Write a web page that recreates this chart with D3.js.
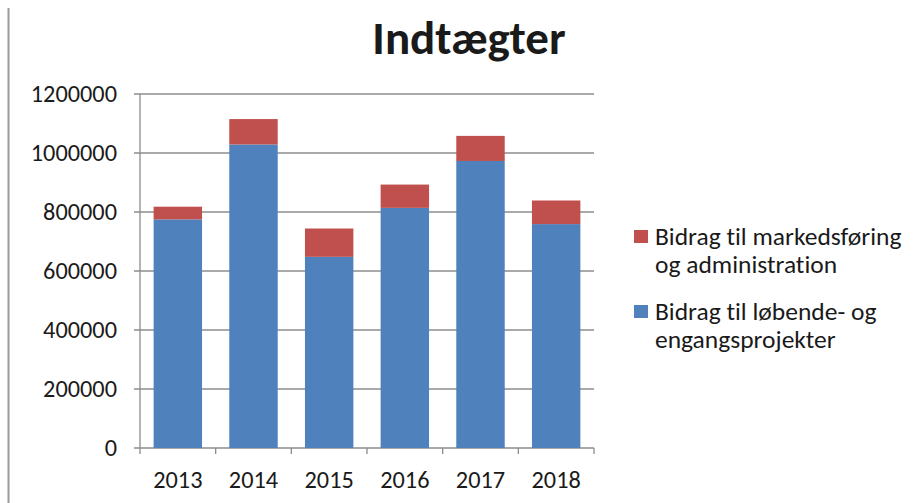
<!DOCTYPE html>
<head>
    <script src="https://d3js.org/d3.v7.min.js"></script>
    <style>
        body { margin: 0; background: white; }
        svg text { font-family: Carlito, Calibri, "Open Sans", sans-serif; fill: #1a1a1a; font-variant-ligatures: none; }
    </style>
</head>
<body>
    <svg width="923" height="503"></svg>
</body>
<script>
    var years = ["2013", "2014", "2015", "2016", "2017", "2018"]
    var lobende = [775000, 1029000, 648000, 814000, 973000, 759000]
    var markedsforing = [43000, 86000, 96000, 79000, 85000, 80000]
    var yTicks = [0, 200000, 400000, 600000, 800000, 1000000, 1200000]
    var colors = ["#4f81bd", "#c0504d"]

    var svg = d3.select("svg")
    var mLeft = 140, mRight = 594, mTop = 94, mBottom = 448

    // page edge line at far left
    svg.append("line")
        .attr("x1", 8.5).attr("x2", 8.5).attr("y1", 8).attr("y2", 503)
        .attr("stroke", "#9a9a9a").attr("stroke-width", 2)

    var x = d3.scaleBand().domain(years).range([mLeft, mRight]).paddingInner(0.36).paddingOuter(0.18)
    var y = d3.scaleLinear().domain([0, 1200000]).range([mBottom, mTop])

    // gridlines
    svg.selectAll(".grid").data(yTicks).enter().append("line")
        .attr("x1", mLeft - 6).attr("x2", mRight)
        .attr("y1", d => y(d)).attr("y2", d => y(d))
        .attr("stroke", "#8c8c8c").attr("stroke-width", 1.3)

    svg.append("line")
        .attr("x1", mLeft).attr("x2", mLeft).attr("y1", mTop).attr("y2", mBottom)
        .attr("stroke", "#8c8c8c").attr("stroke-width", 1.3)

    // x tick marks
    var edges = years.map(d => x(d) - x.step() * x.paddingInner() / 2).concat([mRight])
    svg.selectAll(".xt").data(edges).enter().append("line")
        .attr("x1", d => d).attr("x2", d => d).attr("y1", mBottom).attr("y2", mBottom + 6)
        .attr("stroke", "#8c8c8c").attr("stroke-width", 1.3)

    svg.selectAll(".yl").data(yTicks).enter().append("text")
        .attr("x", 117).attr("y", d => y(d) + 8)
        .attr("text-anchor", "end").attr("font-size", 24.3)
        .text(d => d)

    svg.selectAll(".xl").data(years).enter().append("text")
        .attr("x", d => x(d) + x.bandwidth() / 2).attr("y", 488)
        .attr("text-anchor", "middle").attr("font-size", 24.3)
        .text(d => d)

    // stacked bars
    var rows = years.map((d, i) => ({ year: d, a: lobende[i], b: markedsforing[i] }))
    var stack = d3.stack().keys(["a", "b"])(rows)
    svg.selectAll(".layer").data(stack).enter().append("g")
        .attr("fill", (d, i) => colors[i])
        .selectAll("rect").data(d => d).enter().append("rect")
        .attr("x", d => x(d.data.year))
        .attr("width", x.bandwidth())
        .attr("y", d => y(d[1]))
        .attr("height", d => y(d[0]) - y(d[1]))

    svg.append("text")
        .attr("x", 469).attr("y", 54)
        .attr("text-anchor", "middle").attr("font-size", 47).attr("font-weight", "bold")
        .attr("fill", "#000")
        .text("Indtægter")

    // legend (red first)
    var legend = [
        { color: colors[1], lines: ["Bidrag til markedsføring", "og administration"], y: 230 },
        { color: colors[0], lines: ["Bidrag til løbende- og", "engangsprojekter"], y: 305 }
    ]
    var lg = svg.selectAll(".lg").data(legend).enter().append("g")
    lg.append("rect").attr("x", 634).attr("y", d => d.y).attr("width", 14).attr("height", 13)
        .attr("fill", d => d.color)
    lg.selectAll("text").data(d => d.lines.map((t, i) => ({ t: t, y: d.y + 15 + i * 28 })))
        .enter().append("text")
        .attr("font-size", 25.5)
        .attr("x", 655).attr("y", d => d.y)
        .text(d => d.t)
</script>
